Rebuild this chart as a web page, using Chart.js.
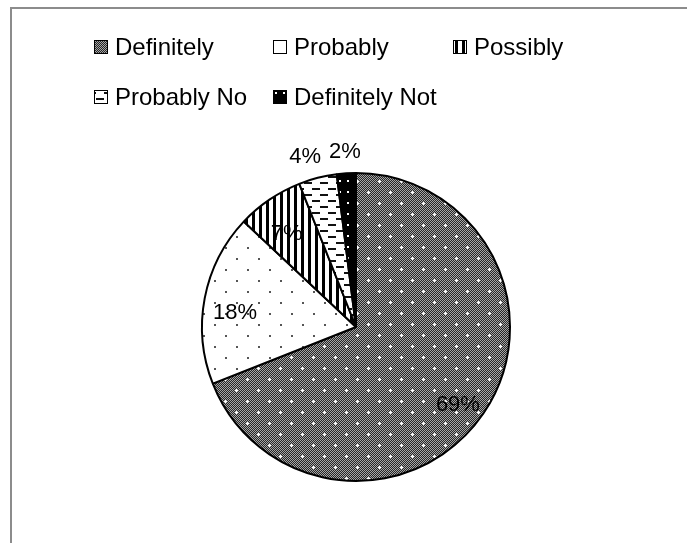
<!DOCTYPE html>
<html>
<head>
<meta charset="utf-8">
<script src="https://cdn.jsdelivr.net/npm/chart.js@4"></script>
<style>
  body { margin: 0; background: #fff; overflow: hidden; }
  #wrap { position: relative; width: 687px; height: 543px; }
  #frame { position: absolute; left: 10px; top: 7px; width: 720px; height: 580px;
           border: 2px solid #8c8c8c; box-sizing: border-box; }
  canvas { position: absolute; left: 0; top: 0; }
</style>
</head>
<body>
<div id="wrap">
  <div id="frame"></div>
  <canvas id="grafico" width="687" height="543"></canvas>
</div>
<script>
// dados
const categorias = ['Definitely', 'Probably', 'Possibly', 'Probably No', 'Definitely Not'];
const valores = [69, 18, 7, 4, 2];

// padrões de preenchimento
function tile(w, h, draw) {
    const c = document.createElement('canvas');
    c.width = w; c.height = h;
    const g = c.getContext('2d');
    draw(g, w, h);
    return document.getElementById('grafico').getContext('2d').createPattern(c, 'repeat');
}

const padraoDefinitely = tile(22, 22, (g, w, h) => {
    for (let y = 0; y < h; y++) {
        for (let x = 0; x < w; x++) {
            g.fillStyle = (x + y) % 2 ? '#262626' : '#a6a6a6';
            g.fillRect(x, y, 1, 1);
        }
    }
    g.fillStyle = '#fff';
    [[5, 5], [16, 16]].forEach(([x, y]) => {
        g.fillRect(x - 1, y, 3, 1);
        g.fillRect(x, y - 1, 1, 3);
    });
});

const padraoProbably = tile(22, 22, (g, w, h) => {
    g.fillStyle = '#fff'; g.fillRect(0, 0, w, h);
    g.fillStyle = '#555';
    g.fillRect(5, 5, 2, 2);
    g.fillRect(16, 16, 2, 2);
});

const padraoPossibly = tile(7, 7, (g, w, h) => {
    g.fillStyle = '#fff'; g.fillRect(0, 0, w, h);
    g.fillStyle = '#000'; g.fillRect(0, 0, 3, h);
});

const padraoProbablyNo = tile(16, 12, (g, w, h) => {
    g.fillStyle = '#fff'; g.fillRect(0, 0, w, h);
    g.fillStyle = '#111';
    g.fillRect(0, 2, 8, 2);
    g.fillRect(8, 8, 8, 2);
});

const padraoDefinitelyNot = tile(8, 11, (g, w, h) => {
    g.fillStyle = '#000'; g.fillRect(0, 0, w, h);
    g.fillStyle = '#fff';
    g.fillRect(3, 4, 2, 2);
});

const padroes = [padraoDefinitely, padraoProbably, padraoPossibly, padraoProbablyNo, padraoDefinitelyNot];

// legenda desenhada à mão (grade de 3 colunas)
const legendaCols = [94, 273, 453];
const legendaRows = [47, 97];

const legendaPlugin = {
    id: 'legendaPlugin',
    afterDraw(chart) {
        const ctx = chart.ctx;
        ctx.save();
        ctx.font = '24px "Liberation Sans", Arial, sans-serif';
        ctx.textBaseline = 'middle';
        categorias.forEach((nome, i) => {
            const x = legendaCols[i % 3];
            const y = legendaRows[Math.floor(i / 3)];
            ctx.fillStyle = padroes[i];
            ctx.fillRect(x, y - 7, 14, 14);
            ctx.strokeStyle = '#000';
            ctx.lineWidth = 1;
            ctx.strokeRect(x + 0.5, y - 6.5, 13, 13);
            ctx.fillStyle = '#000';
            ctx.fillText(nome, x + 21, y + 1);
        });
        ctx.restore();
    }
};

// rótulos de porcentagem
const rotulosPlugin = {
    id: 'rotulosPlugin',
    afterDatasetsDraw(chart) {
        const ctx = chart.ctx;
        const meta = chart.getDatasetMeta(0);
        ctx.save();
        ctx.font = '22px "Liberation Sans", Arial, sans-serif';
        ctx.textAlign = 'center';
        ctx.textBaseline = 'middle';
        ctx.fillStyle = '#000';
        const pos = meta.data.map((arc, i) => {
            const p = arc.getProps(['x', 'y', 'startAngle', 'endAngle', 'outerRadius'], true);
            const meio = (p.startAngle + p.endAngle) / 2;
            const fora = valores[i] < 5;
            const r = fora ? p.outerRadius * 1.14 : p.outerRadius * 0.8;
            return {
                fora,
                txt: valores[i] + '%',
                x: p.x + Math.cos(meio) * r,
                y: p.y + Math.sin(meio) * r + (fora ? 0 : 9)
            };
        });
        // evita sobreposição dos rótulos externos
        for (let i = pos.length - 2; i >= 0; i--) {
            const a = pos[i], b = pos[i + 1];
            if (!a.fora || !b.fora) continue;
            const minDist = ctx.measureText(a.txt).width / 2 + ctx.measureText(b.txt).width / 2 + 8;
            if (b.x - a.x < minDist) a.x = b.x - minDist;
        }
        pos.forEach(l => ctx.fillText(l.txt, l.x, l.y));
        ctx.restore();
    }
};

const grafico = new Chart(document.getElementById('grafico').getContext('2d'), {
    type: 'pie',
    data: {
        labels: categorias,
        datasets: [{
            data: valores,
            backgroundColor: padroes,
            borderColor: '#000',
            borderWidth: 2
        }]
    },
    options: {
        responsive: false,
        animation: false,
        layout: { padding: { left: 201, right: 176, top: 172, bottom: 61 } },
        plugins: {
            legend: { display: false },
            tooltip: { enabled: false }
        }
    },
    plugins: [legendaPlugin, rotulosPlugin]
});
</script>
</body>
</html>
